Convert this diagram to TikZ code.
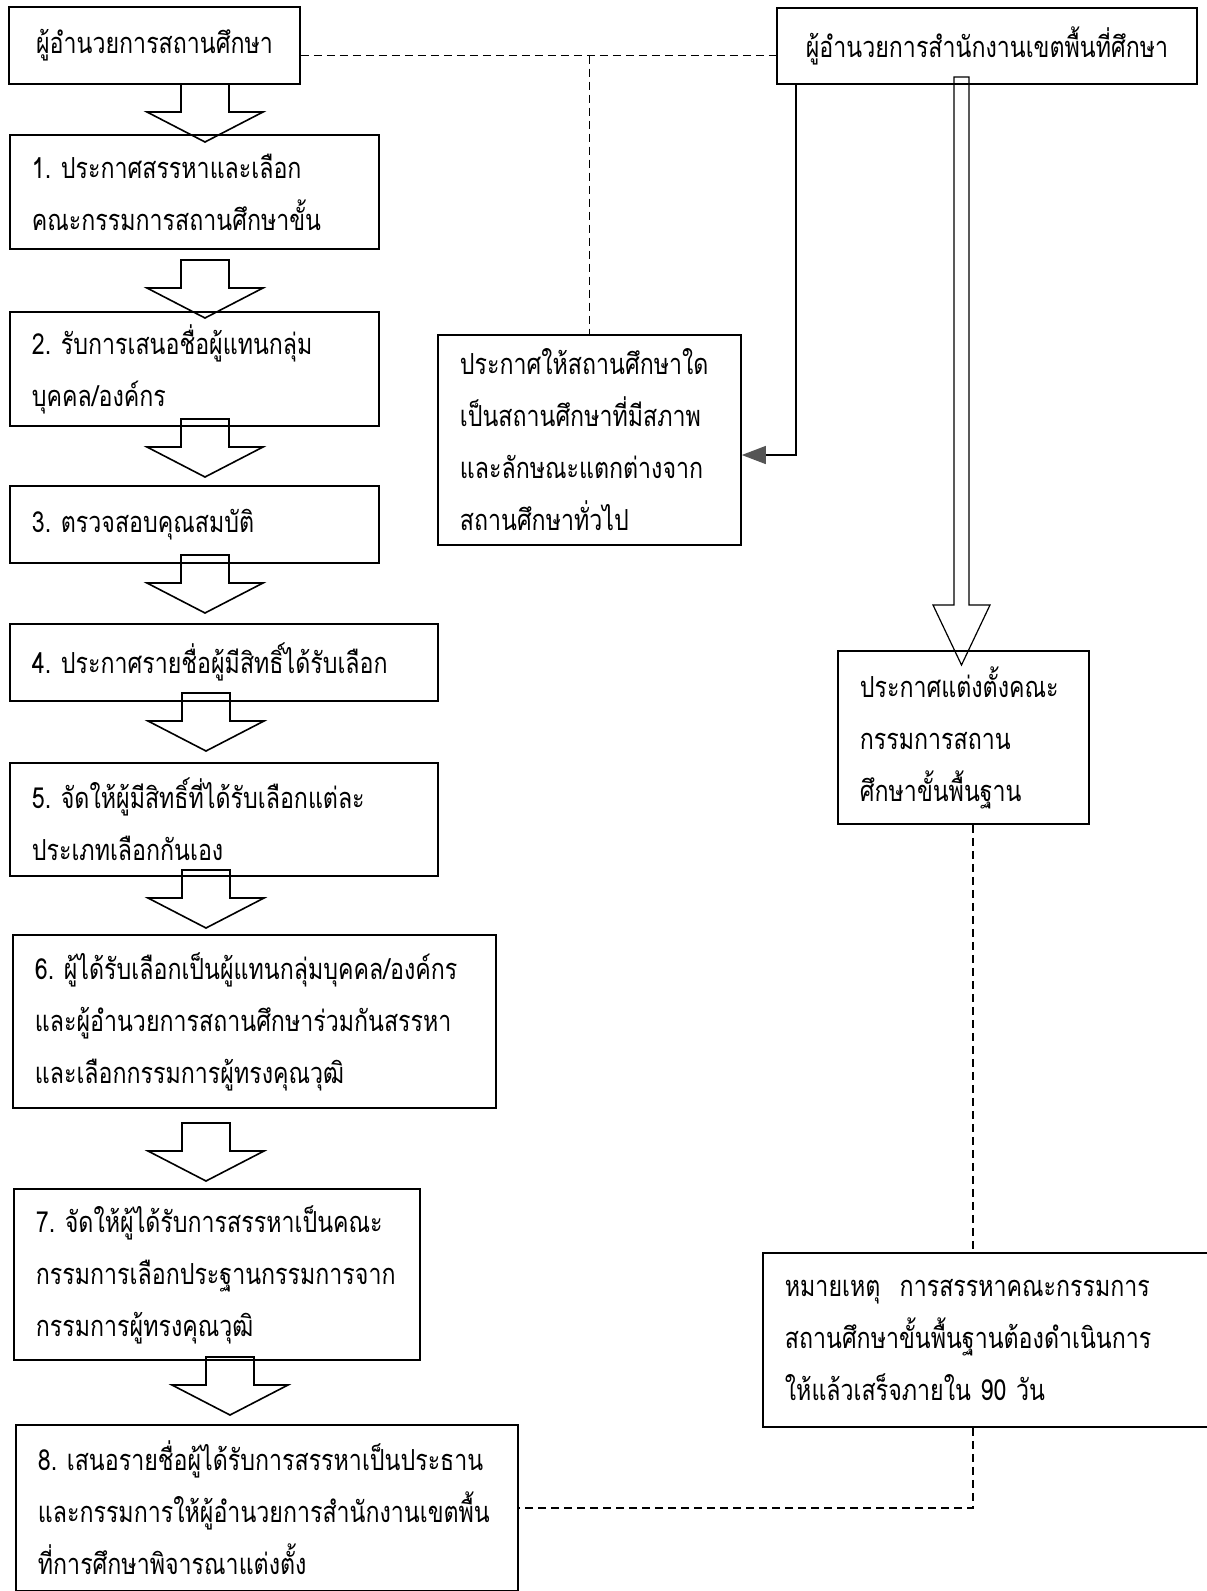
\documentclass[tikz,border=0pt]{standalone}
\usepackage{fontspec}
\setmainfont[Script=Thai,FakeStretch=0.8]{Loma}
\usetikzlibrary{arrows.meta}

\definecolor{tipgray}{HTML}{555555}

\begin{document}
\begin{tikzpicture}[x=0.5pt, y=-0.5pt,
  harrow/.pic={\draw[line width=0.8pt] (-24,0) -- (-24,28) -- (-58,28) -- (0,58)
    -- (58,28) -- (24,28) -- (24,0) -- cycle;}]
  \tikzstyle{box} = [draw, line width=0.9pt, anchor=north west, align=left,
  inner xsep=11pt, inner ysep=0pt, font=\fontsize{14.5}{26}\selectfont];
  \tikzstyle{hd} = [box, anchor=center, align=center, inner xsep=0pt];
  \tikzstyle{dsh} = [line width=0.6pt, dash pattern=on 4pt off 2.5pt];
  \tikzstyle{ln} = [line width=0.6pt];

  \fill[white] (0,0) rectangle (1206,1591);
  \useasboundingbox (0,0) rectangle (1206,1591);

  \node[hd, minimum width=145.5pt, minimum height=38.5pt] (dA) at (154.5,45.5) {ผู้อำนวยการสถานศึกษา};
  \node[hd, minimum width=210pt, minimum height=38pt] (dB) at (987,46) {ผู้อำนวยการสำนักงานเขตพื้นที่ศึกษา};

  \node[box, text width=162.5pt, minimum height=57pt] (s1) at (9,134)
    {1.~ประกาศสรรหาและเลือก\\คณะกรรมการสถานศึกษาขั้น};
  \node[box, text width=162.5pt, minimum height=57pt] (s2) at (9,311)
    {2.~รับการเสนอชื่อผู้แทนกลุ่ม\\บุคคล/องค์กร};
  \node[box, text width=162.5pt, minimum height=38.5pt] (s3) at (9,485)
    {3.~ตรวจสอบคุณสมบัติ};
  \node[box, text width=192pt, minimum height=38.5pt] (s4) at (9,623)
    {4.~ประกาศรายชื่อผู้มีสิทธิ์ได้รับเลือก};
  \node[box, text width=192pt, minimum height=56.5pt] (s5) at (9,762)
    {5.~จัดให้ผู้มีสิทธิ์ที่ได้รับเลือกแต่ละ\\ประเภทเลือกกันเอง};
  \node[box, text width=219.5pt, minimum height=86.5pt] (s6) at (12,934)
    {6.~ผู้ได้รับเลือกเป็นผู้แทนกลุ่มบุคคล/องค์กร\\และผู้อำนวยการสถานศึกษาร่วมกันสรรหา\\และเลือกกรรมการผู้ทรงคุณวุฒิ};
  \node[box, text width=181pt, minimum height=85.5pt] (s7) at (13,1188)
    {7.~จัดให้ผู้ได้รับการสรรหาเป็นคณะ\\กรรมการเลือกประฐานกรรมการจาก\\กรรมการผู้ทรงคุณวุฒิ};
  \node[box, text width=229pt, minimum height=83pt] (s8) at (15,1424)
    {8.~เสนอรายชื่อผู้ได้รับการสรรหาเป็นประธาน\\และกรรมการให้ผู้อำนวยการสำนักงานเขตพื้น\\ที่การศึกษาพิจารณาแต่งตั้ง};

  \node[box, text width=129.5pt, minimum height=105pt] (dC) at (437,334)
    {ประกาศให้สถานศึกษาใด\\เป็นสถานศึกษาที่มีสภาพ\\และลักษณะแตกต่างจาก\\สถานศึกษาทั่วไป};
  \node[box, text width=103.5pt, minimum height=86.5pt] (dD) at (837,650)
    {ประกาศแต่งตั้งคณะ\\กรรมการสถาน\\ศึกษาขั้นพื้นฐาน};
  \node[box, text width=208pt, minimum height=87pt] (nE) at (762,1252)
    {หมายเหตุ~~การสรรหาคณะกรรมการ\\สถานศึกษาขั้นพื้นฐานต้องดำเนินการ\\ให้แล้วเสร็จภายใน~90~วัน};

  \pic at (205,84) {harrow};
  \pic at (205,260) {harrow};
  \pic at (205,419) {harrow};
  \pic at (205,555) {harrow};
  \pic at (206,693) {harrow};
  \pic at (206,870) {harrow};
  \pic at (206,1123) {harrow};
  \pic at (230,1357) {harrow};

  \coordinate (hl) at ([yshift=-5pt]dA.east);
  \draw[dsh] (hl) -- (hl -| dB.west);
  \draw[dsh] (hl -| dC.north) -- (dC.north);

  \coordinate (bend) at (796,455);
  \draw[ln, -{Triangle[length=12pt, width=9pt, color=tipgray]}] (bend |- dB.south) -- (bend) -- (bend -| dC.east);

  \coordinate (dtop) at (954,81);
  \draw[ln] (dtop) -- ++(0,524) -- ++(-21,0) -- ++(28.5,60) -- ++(28.5,-60)
    -- ++(-21,0) -- ++(0,-528) -- ++(-15,0) -- cycle;

  \coordinate (vx) at (973,0);
  \draw[dsh] (dD.south -| vx) -- (nE.north -| vx);
  \draw[dsh] (nE.south -| vx) |- (s8.east);
\end{tikzpicture}
\end{document}
